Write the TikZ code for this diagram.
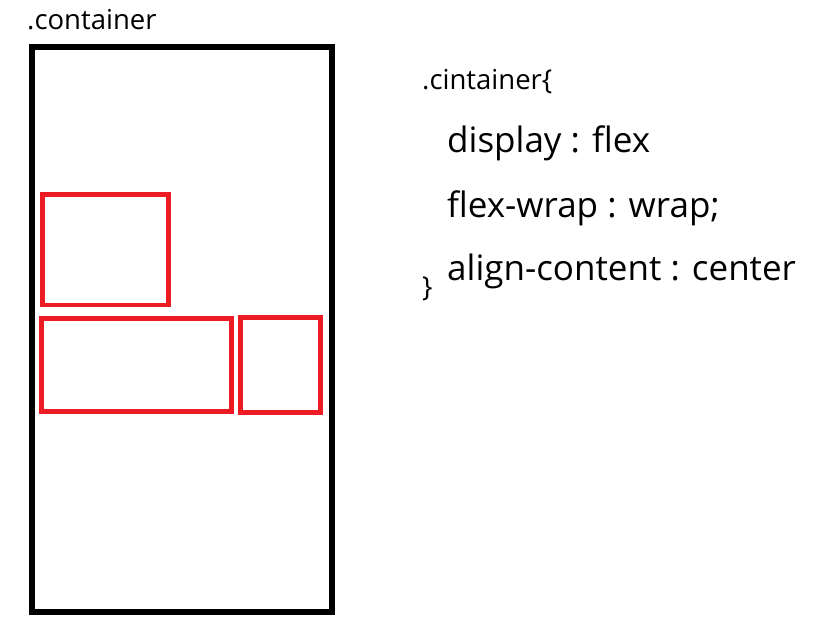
\documentclass[tikz,border=0pt]{standalone}
\usepackage{fontspec}
\setmainfont{Open Sans}
\usetikzlibrary{positioning}
\usepackage{xcolor}
\definecolor{PaintRed}  {HTML}{ED1C24}
\definecolor{FrameBlack}{HTML}{000000}
\tikzset{
  frame/.style={rectangle,draw=FrameBlack,line width=6pt,inner sep=0pt},
  item/.style={rectangle,draw=PaintRed,line width=4.6pt,inner sep=0pt},
  lbl/.style={anchor=base west,inner sep=0pt,font=\fontsize{27.5}{32}\selectfont},
  rule/.style={anchor=base west,inner sep=0pt,font=\fontsize{35}{41}\selectfont},
}
\begin{document}
\begin{tikzpicture}[x=1pt,y=-1pt]

  \useasboundingbox (0,0) rectangle (816,624);

  % flex container and its items
  \node[lbl] (title) at (27,29) {.container};
  \node[frame,minimum width=300pt,minimum height=565pt] (cont) at (181.5,329.5) {};

  \node[item,minimum width=126pt,minimum height=110.5pt] (boxa) at (105.5,249.8) {};
  \node[item,minimum width=190pt,minimum height=93pt]    (boxb) at (136.5,364.8) {};
  \node[item,minimum width=80.3pt,minimum height=94.8pt] (boxc) at (280.6,364.9) {};

  % css rule
  \node[lbl]  (sel)   at (422,89)  {.cintainer\{};
  \node[rule] (disp)  at (447,152) {display : flex};
  \node[rule] (wrap)  at (447,217) {flex-wrap : wrap;};
  \node[rule] (align) at (447,280) {align-content : center};
  \node[lbl]  (close) at (422,296) {\}};

\end{tikzpicture}
\end{document}
